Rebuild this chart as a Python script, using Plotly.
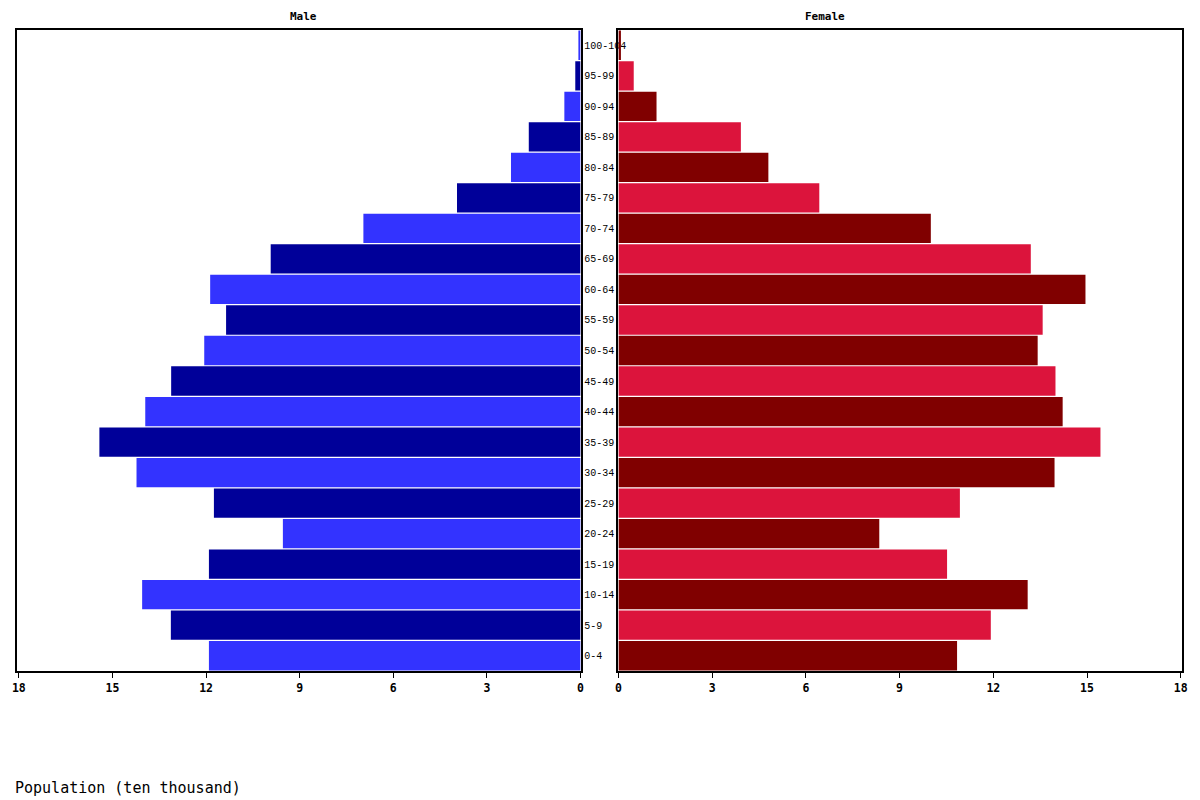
import plotly.graph_objects as go

# Grupos de edad (de abajo hacia arriba)
edades = ["0-4", "5-9", "10-14", "15-19", "20-24", "25-29", "30-34", "35-39",
          "40-44", "45-49", "50-54", "55-59", "60-64", "65-69", "70-74",
          "75-79", "80-84", "85-89", "90-94", "95-99", "100-104"]

# Población en decenas de miles
hombres = [11.91, 13.13, 14.05, 11.91, 9.54, 11.75, 14.23, 15.42, 13.95, 13.12,
           12.06, 11.36, 11.87, 9.93, 6.96, 3.96, 2.23, 1.66, 0.52, 0.17, 0.07]
mujeres = [10.84, 11.92, 13.10, 10.52, 8.35, 10.93, 13.96, 15.43, 14.22, 13.99,
           13.42, 13.58, 14.95, 13.20, 10.00, 6.43, 4.80, 3.92, 1.22, 0.49, 0.08]

ticks = [0, 3, 6, 9, 12, 15, 18]

# Colores alternados por barra
col_h = ["#3333FF" if i % 2 == 0 else "#000099" for i in range(len(edades))]
col_m = ["#800000" if i % 2 == 0 else "#DC143C" for i in range(len(edades))]

fuente = "DejaVu Sans Mono"

fig = go.Figure()
fig.add_trace(go.Bar(y=edades, x=hombres, orientation="h", marker_color=col_h,
                     marker_line_width=0, name="Male", xaxis="x", yaxis="y"))
fig.add_trace(go.Bar(y=edades, x=mujeres, orientation="h", marker_color=col_m,
                     marker_line_width=0, name="Female", xaxis="x2", yaxis="y2"))

eje_x = dict(tickvals=ticks, ticktext=[str(t) for t in ticks], ticks="outside",
             ticklen=5, tickcolor="black", showline=True, linecolor="black",
             linewidth=1.5, mirror=True, showgrid=False, zeroline=False,
             tickfont=dict(family=fuente, size=11.5, color="black", weight="bold"))

fig.update_layout(
    width=1200, height=800,
    margin=dict(l=15, r=15, t=30, b=129),
    plot_bgcolor="white", paper_bgcolor="white",
    showlegend=False,
    bargap=0.04,
    font=dict(family=fuente, color="black"),
    xaxis=dict(eje_x, domain=[0, 0.48376], range=[18.06, 0], anchor="y"),
    xaxis2=dict(eje_x, domain=[0.51624, 1], range=[0, 18.04], anchor="y2"),
    yaxis=dict(type="category", categoryarray=edades, range=[-0.5, 20.5],
               side="right", anchor="x", showline=True, linecolor="black",
               linewidth=1.5, mirror=True, ticks="", showgrid=False,
               tickfont=dict(family="Liberation Mono", size=10, color="black")),
    yaxis2=dict(type="category", categoryarray=edades, range=[-0.5, 20.5],
                anchor="x2", matches="y", showline=True, linecolor="black",
                linewidth=1.5, mirror=True, ticks="", showgrid=False,
                showticklabels=False),
    annotations=[
        dict(text="Male", x=0.2462, y=1.0203, xref="paper", yref="paper",
             showarrow=False, xanchor="center", yanchor="middle",
             font=dict(family=fuente, size=11, weight="bold")),
        dict(text="Female", x=0.6932, y=1.0203, xref="paper", yref="paper",
             showarrow=False, xanchor="center", yanchor="middle",
             font=dict(family=fuente, size=11, weight="bold")),
        dict(text="Population (ten thousand)", x=0, y=-0.1825, xref="paper",
             yref="paper", showarrow=False, xanchor="left", yanchor="middle",
             xshift=-4, font=dict(family=fuente, size=15)),
    ],
)

# Quitar el margen por defecto del body para que el gráfico quede en (0,0)
fig.write_html("out.html", config={"displayModeBar": False},
               post_script="document.body.style.margin='0';")
